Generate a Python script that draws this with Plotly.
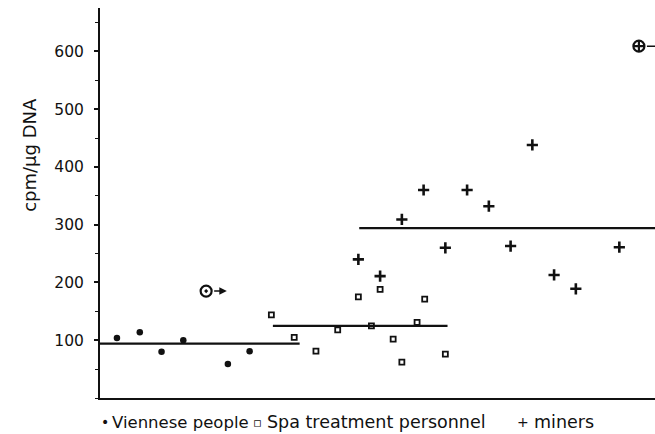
import plotly.graph_objects as go

# ---- data ----
vienna_x = [0, 1.05, 2.05, 3.05, 5.1, 6.1]
vienna_y = [104, 114, 80, 100, 59, 81]
vienna_out_x = [4.1]
vienna_out_y = [185]
vienna_mean = 94
vienna_span = [-0.78, 8.4]

spa_x = [7.1, 8.15, 9.15, 10.15, 11.1, 11.7, 12.1, 12.7, 13.1, 13.8, 14.15, 15.1]
spa_y = [144, 105, 81, 118, 175, 125, 188, 102, 62, 131, 171, 76]
spa_mean = 125
spa_span = [7.17, 15.2]

miners_x = [11.1, 12.1, 13.1, 14.1, 15.1, 16.1, 17.1, 18.1, 19.1, 20.1, 21.1, 23.1]
miners_y = [240, 211, 309, 360, 260, 360, 332, 263, 438, 213, 189, 261]
miners_out_x = [24.0]
miners_out_y = [609]
miners_mean = 294
miners_span = [11.14, 24.74]

y_ticks = [100, 200, 300, 400, 500, 600]
y_label = "cpm/µg DNA"
legend_symbols = ["•", "▫", "+"]
legend_labels = ["Viennese people", "Spa treatment personnel", "miners"]

FONT = "DejaVu Sans, sans-serif"
BLACK = "#111111"

fig = go.Figure()

# mean lines
for span, m in [(vienna_span, vienna_mean), (spa_span, spa_mean), (miners_span, miners_mean)]:
    fig.add_trace(go.Scatter(x=span, y=[m, m], mode="lines",
                             line=dict(color=BLACK, width=2.2), showlegend=False,
                             hoverinfo="skip"))

fig.add_trace(go.Scatter(x=vienna_x, y=vienna_y, mode="markers", name="Viennese people",
                         marker=dict(symbol="circle", size=6.5, color=BLACK)))
fig.add_trace(go.Scatter(x=vienna_out_x, y=vienna_out_y, mode="markers", showlegend=False,
                         marker=dict(symbol="circle-dot", size=11, color="white",
                                     line=dict(color=BLACK, width=2.2))))
fig.add_trace(go.Scatter(x=spa_x, y=spa_y, mode="markers", name="Spa treatment personnel",
                         marker=dict(symbol="square-open", size=5, color=BLACK,
                                     line=dict(color=BLACK, width=1.8))))
fig.add_trace(go.Scatter(x=miners_x, y=miners_y, mode="markers", name="miners",
                         marker=dict(symbol="cross-thin", size=8, color=BLACK,
                                     line=dict(color=BLACK, width=2.6))))
fig.add_trace(go.Scatter(x=miners_out_x, y=miners_out_y, mode="markers", showlegend=False,
                         marker=dict(symbol="circle-cross-open", size=11, color=BLACK,
                                     line=dict(color=BLACK, width=2.2))))

# arrows from the outliers
fig.add_annotation(x=5.05, y=vienna_out_y[0], ax=vienna_out_x[0] + 0.3, ay=vienna_out_y[0],
                   xref="x", yref="y", axref="x", ayref="y", text="", showarrow=True,
                   arrowhead=2, arrowsize=1, arrowwidth=1.5, arrowcolor=BLACK)
fig.add_annotation(x=24.74, y=miners_out_y[0], ax=miners_out_x[0] + 0.3, ay=miners_out_y[0],
                   xref="x", yref="y", axref="x", ayref="y", text="", showarrow=True,
                   arrowhead=0, arrowwidth=1.5, arrowcolor=BLACK)

# y-axis title
fig.add_annotation(text=y_label, xref="paper", yref="paper", x=(30 - 100) / 555,
                   y=(398.5 - 155) / 390.5, xanchor="center", yanchor="middle",
                   textangle=-90, showarrow=False, font=dict(size=18, color=BLACK, family=FONT))

# legend line at the bottom
sym_x = [105, 257, 523]
sym_size = [14, 13, 14]
text_x = [110, 265, 532]
text_size = [16.5, 17.5, 17.5]
leg_y = -(423 - 398.5) / 390.5
for sx, ss, tx, ts, sym, lab in zip(sym_x, sym_size, text_x, text_size,
                                    legend_symbols, legend_labels):
    fig.add_annotation(text=sym, xref="paper", yref="paper", x=(sx - 100) / 555, y=leg_y,
                       xanchor="center", yanchor="middle", showarrow=False,
                       font=dict(size=ss, color=BLACK, family=FONT))
    fig.add_annotation(text=lab, xref="paper", yref="paper", x=(tx - 100) / 555, y=leg_y,
                       xanchor="left", yanchor="middle", showarrow=False,
                       font=dict(size=ts, color=BLACK, family=FONT))

fig.update_layout(
    width=655, height=434,
    margin=dict(l=100, r=0, t=8, b=36),
    paper_bgcolor="white", plot_bgcolor="white",
    showlegend=False,
    font=dict(family=FONT, size=15, color=BLACK),
    xaxis=dict(range=[-0.78, 24.74], showgrid=False, zeroline=False, showticklabels=False,
               showline=True, linecolor=BLACK, linewidth=2, ticks=""),
    yaxis=dict(range=[0, 675], showgrid=False, zeroline=False, tickvals=y_ticks,
               showline=True, linecolor=BLACK, linewidth=2, ticks="outside", ticklen=4,
               tickwidth=1.5, tickcolor=BLACK, ticklabelstandoff=7,
               tickfont=dict(size=15.5),
               minor=dict(dtick=50, tick0=0, ticks="outside", ticklen=3, tickwidth=1.2,
                          tickcolor=BLACK)),
)

fig.write_html("out.html", config={"displayModeBar": False},
               post_script="document.body.style.margin='0';")
